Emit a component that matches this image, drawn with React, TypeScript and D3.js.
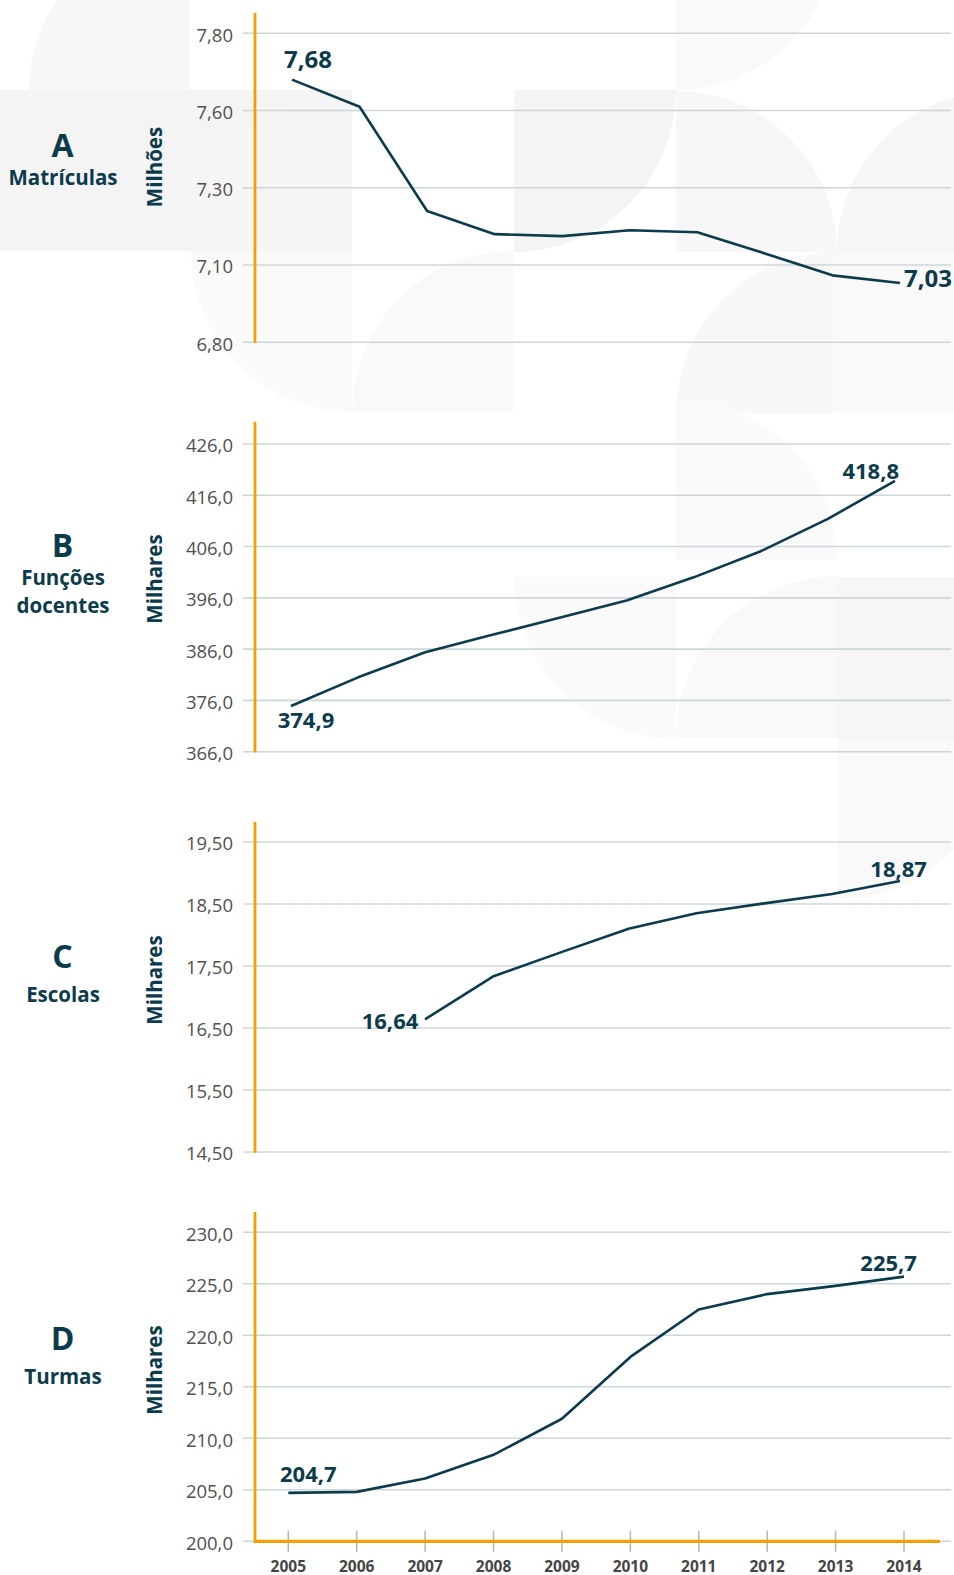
import React from "react";
import * as d3 from "d3";

// ---------- DATA ----------
const years = [2005, 2006, 2007, 2008, 2009, 2010, 2011, 2012, 2013, 2014];
const matriculas = [7.68, 7.61, 7.24, 7.18, 7.175, 7.19, 7.185, 7.13, 7.06, 7.03];
const funcoesDocentes = [374.9, 380.5, 385.4, 388.8, 392.1, 395.5, 400.0, 405.1, 411.4, 418.8];
const escolas: (number | null)[] = [null, null, 16.64, 17.33, 17.72, 18.1, 18.35, 18.51, 18.66, 18.87];
const turmas = [204.7, 204.8, 206.1, 208.4, 211.9, 217.9, 222.5, 224.0, 224.8, 225.7];

const ticksA = [6.8, 7.1, 7.3, 7.6, 7.8];
const ticksB = [366, 376, 386, 396, 406, 416, 426];
const ticksC = [14.5, 15.5, 16.5, 17.5, 18.5, 19.5];
const ticksD = [200, 205, 210, 215, 220, 225, 230];

// ---------- STYLE / LAYOUT ----------
const W = 954;
const H = 1575;
const FONT = "'Open Sans', 'Noto Sans', sans-serif";
const TEAL = "#0c3b4c";
const ORANGE = "#f2a000";
const GRID = "#ccd7db";
const TICKTXT = "#505050";

const locale = d3.formatLocale({ decimal: ",", thousands: ".", grouping: [3], currency: ["R$", ""] });

type LabelSpec = { i: number; anchor: "start" | "end" | "middle"; dx: number; dy: number };
type Panel = {
  letter: string;
  titleLines: string[];
  unit: string;
  values: (number | null)[];
  ticks: number[];
  decimals: number;
  yTop: number;
  yBottom: number;
  axisTop: number;
  xRange: [number, number];
  letterY: number;
  titleY: number[];
  unitY: number;
  labelFont: number;
  labels: LabelSpec[];
  polylinear?: boolean;
  xAxis?: boolean;
};

const panels: Panel[] = [
  {
    letter: "A", titleLines: ["Matrículas"], unit: "Milhões", values: matriculas, ticks: ticksA, decimals: 2,
    yTop: 33.3, yBottom: 342.3, axisTop: 12.7, xRange: [292, 900], letterY: 156.7, titleY: [185], unitY: 167,
    labelFont: 24, polylinear: true,
    labels: [{ i: 0, anchor: "start", dx: -8, dy: -11.7 }, { i: 9, anchor: "start", dx: 4, dy: 4.3 }],
  },
  {
    letter: "B", titleLines: ["Funções", "docentes"], unit: "Milhares", values: funcoesDocentes, ticks: ticksB, decimals: 1,
    yTop: 444, yBottom: 751.7, axisTop: 421.7, xRange: [291, 895], letterY: 556.7, titleY: [585, 613], unitY: 579,
    labelFont: 22,
    labels: [{ i: 0, anchor: "start", dx: -13.3, dy: 22.2 }, { i: 9, anchor: "end", dx: 4, dy: -1.6 }],
  },
  {
    letter: "C", titleLines: ["Escolas"], unit: "Milhares", values: escolas, ticks: ticksC, decimals: 2,
    yTop: 842, yBottom: 1152, axisTop: 822, xRange: [289.3, 900], letterY: 968.3, titleY: [1001.7], unitY: 980,
    labelFont: 22,
    labels: [{ i: 2, anchor: "end", dx: -6.7, dy: 10 }, { i: 9, anchor: "start", dx: -29.7, dy: -4.4 }],
  },
  {
    letter: "D", titleLines: ["Turmas"], unit: "Milhares", values: turmas, ticks: ticksD, decimals: 1,
    yTop: 1232.3, yBottom: 1541.3, axisTop: 1212, xRange: [288.3, 904], letterY: 1350, titleY: [1384], unitY: 1370,
    labelFont: 22, xAxis: true,
    labels: [{ i: 0, anchor: "start", dx: -8.3, dy: -11.2 }, { i: 9, anchor: "start", dx: -43.7, dy: -5.9 }],
  },
];

type Decor =
  | { t: "rect"; x: number; y: number; w: number; h: number; f: string }
  | { t: "q"; cx: number; cy: number; r: number; q: "ul" | "ur" | "ll" | "lr"; f: string };

const decor: Decor[] = [
  { t: "rect", x: 0, y: 90, w: 352, h: 161, f: "#f4f4f4" },
  { t: "q", cx: 190, cy: 90, r: 161, q: "ul", f: "#f8f8f8" },
  { t: "q", cx: 352, cy: 251, r: 161, q: "ul", f: "#f5f5f5" },
  { t: "q", cx: 352, cy: 251, r: 161, q: "ll", f: "#fafafa" },
  { t: "q", cx: 513, cy: 412, r: 161, q: "ul", f: "#f9f9f9" },
  { t: "q", cx: 514, cy: 90, r: 162, q: "lr", f: "#f4f4f4" },
  { t: "q", cx: 676, cy: -71, r: 161, q: "lr", f: "#f9f9f9" },
  { t: "q", cx: 676, cy: 252, r: 161, q: "ur", f: "#f7f7f7" },
  { t: "q", cx: 998, cy: 252, r: 161, q: "ul", f: "#f6f6f6" },
  { t: "rect", x: 837, y: 252, w: 117, h: 161, f: "#f9f9f9" },
  { t: "q", cx: 837, cy: 413, r: 161, q: "ul", f: "#f8f8f8" },
  { t: "q", cx: 676, cy: 560, r: 161, q: "ur", f: "#fafafa" },
  { t: "q", cx: 676, cy: 577, r: 162, q: "ll", f: "#fafafa" },
  { t: "q", cx: 838, cy: 738, r: 162, q: "ul", f: "#f9f9f9" },
  { t: "rect", x: 838, y: 577, w: 116, h: 161, f: "#f6f6f6" },
  { t: "q", cx: 838, cy: 738, r: 161, q: "lr", f: "#f9f9f9" },
];

function quarterPath(cx: number, cy: number, r: number, q: string) {
  const pts: Record<string, [number, number, number, number]> = {
    ul: [cx - r, cy, cx, cy - r],
    ur: [cx, cy - r, cx + r, cy],
    lr: [cx + r, cy, cx, cy + r],
    ll: [cx, cy + r, cx - r, cy],
  };
  const [x0, y0, x1, y1] = pts[q];
  return `M${cx},${cy}L${x0},${y0}A${r},${r} 0 0 1 ${x1},${y1}Z`;
}

function PanelView({ p }: { p: Panel }) {
  const x = d3.scaleLinear().domain([years[0], years[years.length - 1]]).range(p.xRange);
  let y: d3.ScaleLinear<number, number>;
  if (p.polylinear) {
    const n = p.ticks.length;
    y = d3
      .scaleLinear()
      .domain(p.ticks)
      .range(p.ticks.map((_, i) => p.yBottom - (i * (p.yBottom - p.yTop)) / (n - 1)));
  } else {
    y = d3.scaleLinear().domain([p.ticks[0], p.ticks[p.ticks.length - 1]]).range([p.yBottom, p.yTop]);
  }
  const fmt = locale.format(`.${p.decimals}f`);
  const pts = years
    .map((yr, i) => ({ yr, v: p.values[i], i }))
    .filter((d) => d.v !== null) as { yr: number; v: number; i: number }[];
  const line = d3
    .line<{ yr: number; v: number }>()
    .x((d) => x(d.yr))
    .y((d) => y(d.v));

  const axisX = 255;
  const gridX0 = 243;
  const gridX1 = 951;

  return (
    <g>
      {p.ticks.map((t) => (
        <line key={t} x1={gridX0} x2={gridX1} y1={y(t)} y2={y(t)} stroke={GRID} strokeWidth={1.6} />
      ))}
      {p.ticks.map((t) => (
        <text key={"l" + t} x={233} y={y(t) + 8.4} textAnchor="end" fontSize={18.5} fill={TICKTXT} fontFamily={FONT}>
          {fmt(t)}
        </text>
      ))}
      {p.xAxis && (
        <g>
          {years.map((yr) => (
            <line key={yr} x1={x(yr)} x2={x(yr)} y1={p.yBottom - 10.5} y2={p.yBottom + 10.5} stroke="#b4b4b4" strokeWidth={1.5} />
          ))}
          <line x1={axisX} x2={940} y1={p.yBottom} y2={p.yBottom} stroke={ORANGE} strokeWidth={3.2} />
          {years.map((yr) => (
            <text key={"y" + yr} x={x(yr)} y={1571.5} textAnchor="middle" fontSize={15.5} fontWeight={700} fill="#454545" fontFamily={FONT}>
              {yr}
            </text>
          ))}
        </g>
      )}
      <line x1={axisX} x2={axisX} y1={p.axisTop} y2={p.yBottom + (p.xAxis ? 1.6 : 0.8)} stroke={ORANGE} strokeWidth={2.8} />
      <path d={line(pts) || ""} fill="none" stroke={TEAL} strokeWidth={2.6} strokeLinejoin="round" />
      {p.labels.map((l) => {
        const v = p.values[l.i] as number;
        return (
          <text
            key={"d" + l.i}
            x={x(years[l.i]) + l.dx}
            y={y(v) + l.dy}
            textAnchor={l.anchor}
            fontSize={p.labelFont}
            fontWeight={700}
            fill={TEAL}
            fontFamily={FONT}
          >
            {fmt(v)}
          </text>
        );
      })}
      <text x={62.5} y={p.letterY} textAnchor="middle" fontSize={32} fontWeight={700} fill={TEAL} fontFamily={FONT}>
        {p.letter}
      </text>
      {p.titleLines.map((t, i) => (
        <text key={t} x={63} y={p.titleY[i]} textAnchor="middle" fontSize={20.5} fontWeight={700} fill={TEAL} fontFamily={FONT}>
          {t}
        </text>
      ))}
      <text
        transform={`translate(161.5,${p.unitY}) rotate(-90)`}
        textAnchor="middle"
        fontSize={20.5}
        fontWeight={700}
        fill={TEAL}
        fontFamily={FONT}
      >
        {p.unit}
      </text>
    </g>
  );
}

export default function App() {
  return (
    <svg
      width={W}
      height={H}
      viewBox={`0 0 ${W} ${H}`}
      style={{ position: "absolute", left: 0, top: 0, background: "#ffffff" }}
    >
      <rect x={0} y={0} width={W} height={H} fill="#ffffff" />
      <g>
        {decor.map((d, i) =>
          d.t === "rect" ? (
            <rect key={i} x={d.x} y={d.y} width={d.w} height={d.h} fill={d.f} />
          ) : (
            <path key={i} d={quarterPath(d.cx, d.cy, d.r, d.q)} fill={d.f} />
          )
        )}
      </g>
      {panels.map((p) => (
        <PanelView key={p.letter} p={p} />
      ))}
    </svg>
  );
}
